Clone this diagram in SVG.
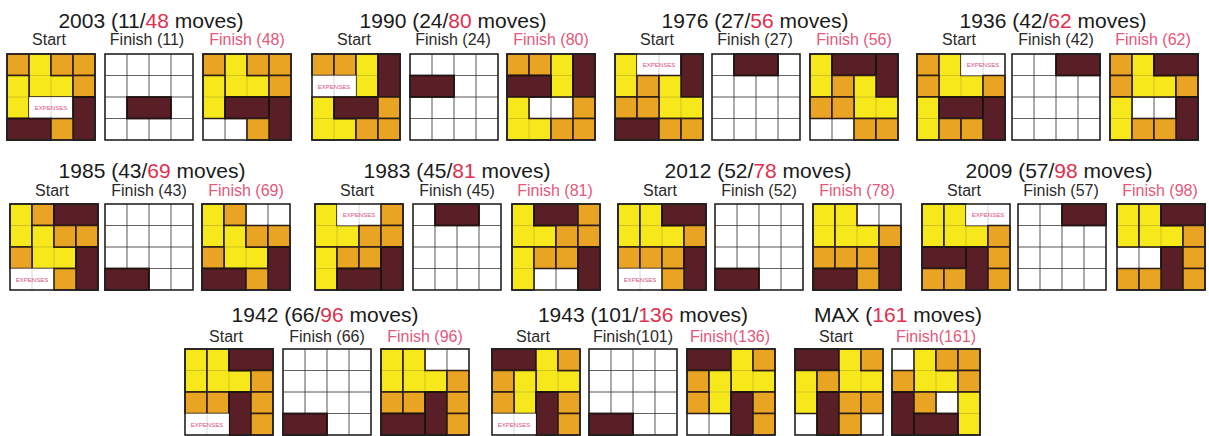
<svg xmlns="http://www.w3.org/2000/svg" xmlns:xlink="http://www.w3.org/1999/xlink" width="1209" height="436" viewBox="0 0 1209 436">
<style>
text{font-family:"Liberation Sans",Arial,sans-serif}
.t{font-size:21px;fill:#1a1a1a;text-anchor:middle}
.r{fill:#e0304e}
.lb{font-size:16px;fill:#2a2a2a;text-anchor:middle}
.lr{font-size:16px;fill:#e4587a;text-anchor:middle}
.ex{font-size:6px;fill:#e0507a;text-anchor:middle}
.o{fill:#eaa423;stroke:#2a1a12;stroke-width:1.5}
.y{fill:#f7e81c;stroke:#2a1a12;stroke-width:1.5}
.d{fill:#5a1e26;stroke:#1a0e0a;stroke-width:1.8}
.w{fill:#ffffff;stroke:none}
.gl{fill:none;stroke:#333;stroke-width:1;opacity:0.7}
.gf{fill:none;stroke:#333;stroke-width:0.8;opacity:0.25}
.bd{fill:none;stroke:#222;stroke-width:1.6}
.bg{fill:#ffffff}
</style>
<defs>
<rect id="c" width="22" height="21.5"/>
<rect id="h" width="44" height="21.5"/>
<rect id="v" width="22" height="43"/>
<path id="L" d="M0,0H22V21.5H44V43H0Z"/>
<path id="lines" d="M22,0V86M44,0V86M66,0V86M0,21.5H88M0,43H88M0,64.5H88"/>
<g id="bg"><rect class="bg" width="88" height="86"/><use href="#lines" class="gl"/></g>
<g id="fr"><use href="#lines" class="gf"/><rect class="bd" width="88" height="86"/></g>
</defs>
<rect width="1209" height="436" fill="#ffffff"/>

<g id="titles">
<text class="t" x="151" y="28">2003 (11/<tspan class="r">48</tspan> moves)</text>
<text class="t" x="453" y="28">1990 (24/<tspan class="r">80</tspan> moves)</text>
<text class="t" x="755" y="28">1976 (27/<tspan class="r">56</tspan> moves)</text>
<text class="t" x="1053" y="28">1936 (42/<tspan class="r">62</tspan> moves)</text>
<text class="t" x="152" y="178">1985 (43/<tspan class="r">69</tspan> moves)</text>
<text class="t" x="457" y="178">1983 (45/<tspan class="r">81</tspan> moves)</text>
<text class="t" x="758" y="178">2012 (52/<tspan class="r">78</tspan> moves)</text>
<text class="t" x="1059" y="178">2009 (57/<tspan class="r">98</tspan> moves)</text>
<text class="t" x="325" y="322">1942 (66/<tspan class="r">96</tspan> moves)</text>
<text class="t" x="643" y="322">1943 (101/<tspan class="r">136</tspan> moves)</text>
<text class="t" x="898" y="322">MAX (<tspan class="r">161</tspan> moves)</text>
</g>

<g id="labels">
<text class="lb" x="49" y="45">Start</text><text class="lb" x="147" y="45">Finish (11)</text><text class="lr" x="247" y="45">Finish (48)</text>
<text class="lb" x="354" y="45">Start</text><text class="lb" x="453" y="45">Finish (24)</text><text class="lr" x="551" y="45">Finish (80)</text>
<text class="lb" x="657" y="45">Start</text><text class="lb" x="755" y="45">Finish (27)</text><text class="lr" x="854" y="45">Finish (56)</text>
<text class="lb" x="959" y="45">Start</text><text class="lb" x="1056" y="45">Finish (42)</text><text class="lr" x="1153" y="45">Finish (62)</text>
<text class="lb" x="52" y="196">Start</text><text class="lb" x="149" y="196">Finish (43)</text><text class="lr" x="246" y="196">Finish (69)</text>
<text class="lb" x="357" y="196">Start</text><text class="lb" x="457" y="196">Finish (45)</text><text class="lr" x="555" y="196">Finish (81)</text>
<text class="lb" x="660" y="196">Start</text><text class="lb" x="759" y="196">Finish (52)</text><text class="lr" x="857" y="196">Finish (78)</text>
<text class="lb" x="964" y="196">Start</text><text class="lb" x="1061" y="196">Finish (57)</text><text class="lr" x="1160" y="196">Finish (98)</text>
<text class="lb" x="226" y="342">Start</text><text class="lb" x="327" y="342">Finish (66)</text><text class="lr" x="425" y="342">Finish (96)</text>
<text class="lb" x="533" y="342">Start</text><text class="lb" x="633" y="342">Finish(101)</text><text class="lr" x="730" y="342">Finish(136)</text>
<text class="lb" x="836" y="342">Start</text><text class="lr" x="936" y="342">Finish(161)</text>
</g>

<!-- 2003 -->
<g id="g2003s" transform="translate(7,54)"><use href="#bg"/>
<use href="#c" class="o"/><use href="#L" class="y" x="22"/><use href="#c" class="o" x="44"/><use href="#c" class="o" x="66"/><use href="#c" class="o" x="66" y="21.5"/><use href="#v" class="y" y="21.5"/><use href="#h" class="w" x="22" y="43"/><text class="ex" x="44" y="56">EXPENSES</text><use href="#v" class="d" x="66" y="43"/><use href="#h" class="d" y="64.5"/><use href="#c" class="o" x="44" y="64.5"/>
<use href="#fr"/></g>
<g id="g2003f1" transform="translate(105,54)"><use href="#bg"/><use href="#h" class="d" x="22" y="43"/><use href="#fr"/></g>
<g id="g2003f2" transform="translate(203,54)"><use href="#bg"/>
<use href="#c" class="o"/><use href="#L" class="y" x="22"/><use href="#c" class="o" x="44"/><use href="#c" class="o" x="66"/><use href="#c" class="o" x="66" y="21.5"/><use href="#v" class="y" y="21.5"/><use href="#h" class="d" x="22" y="43"/><use href="#v" class="d" x="66" y="43"/><use href="#c" class="o" x="44" y="64.5"/>
<use href="#fr"/></g>

<!-- 1990 -->
<g id="g1990s" transform="translate(312,54)"><use href="#bg"/>
<use href="#c" class="o"/><use href="#c" class="o" x="22"/><use href="#v" class="y" x="44"/><use href="#v" class="d" x="66"/><use href="#h" class="w" y="21.5"/><text class="ex" x="22" y="34.5">EXPENSES</text><use href="#L" class="y" y="43"/><use href="#h" class="d" x="22" y="43"/><use href="#c" class="o" x="66" y="43"/><use href="#c" class="o" x="44" y="64.5"/><use href="#c" class="o" x="66" y="64.5"/>
<use href="#fr"/></g>
<g id="g1990f1" transform="translate(410,54)"><use href="#bg"/><use href="#h" class="d" y="21.5"/><use href="#fr"/></g>
<g id="g1990f2" transform="translate(507,54)"><use href="#bg"/>
<use href="#c" class="o"/><use href="#c" class="o" x="22"/><use href="#v" class="y" x="44"/><use href="#v" class="d" x="66"/><use href="#h" class="d" y="21.5"/><use href="#L" class="y" y="43"/><use href="#c" class="o" x="66" y="43"/><use href="#c" class="o" x="44" y="64.5"/><use href="#c" class="o" x="66" y="64.5"/>
<use href="#fr"/></g>

<!-- 1976 -->
<g id="g1976s" transform="translate(615,54)"><use href="#bg"/>
<use href="#v" class="y"/><use href="#h" class="w" x="22"/><text class="ex" x="44" y="13">EXPENSES</text><use href="#v" class="d" x="66"/><use href="#c" class="o" x="22" y="21.5"/><use href="#L" class="y" x="44" y="21.5"/><use href="#c" class="o" y="43"/><use href="#c" class="o" x="22" y="43"/><use href="#h" class="d" y="64.5"/><use href="#c" class="o" x="44" y="64.5"/><use href="#c" class="o" x="66" y="64.5"/>
<use href="#fr"/></g>
<g id="g1976f1" transform="translate(712,54)"><use href="#bg"/><use href="#h" class="d" x="22"/><use href="#fr"/></g>
<g id="g1976f2" transform="translate(810,54)"><use href="#bg"/>
<use href="#v" class="y"/><use href="#h" class="d" x="22"/><use href="#v" class="d" x="66"/><use href="#c" class="o" x="22" y="21.5"/><use href="#L" class="y" x="44" y="21.5"/><use href="#c" class="o" y="43"/><use href="#c" class="o" x="22" y="43"/><use href="#c" class="o" x="44" y="64.5"/><use href="#c" class="o" x="66" y="64.5"/>
<use href="#fr"/></g>

<!-- 1936 -->
<g id="g1936s" transform="translate(917,54)"><use href="#bg"/>
<use href="#c" class="o"/><use href="#L" class="y" x="22"/><use href="#h" class="w" x="44"/><text class="ex" x="66" y="13">EXPENSES</text><use href="#c" class="o" y="21.5"/><use href="#c" class="o" x="66" y="21.5"/><use href="#v" class="y" y="43"/><use href="#h" class="d" x="22" y="43"/><use href="#v" class="d" x="66" y="43"/><use href="#c" class="o" x="22" y="64.5"/><use href="#c" class="o" x="44" y="64.5"/>
<use href="#fr"/></g>
<g id="g1936f1" transform="translate(1012,54)"><use href="#bg"/><use href="#h" class="d" x="44"/><use href="#fr"/></g>
<g id="g1936f2" transform="translate(1110,54)"><use href="#bg"/>
<use href="#c" class="o"/><use href="#L" class="y" x="22"/><use href="#h" class="d" x="44"/><use href="#c" class="o" y="21.5"/><use href="#c" class="o" x="66" y="21.5"/><use href="#v" class="y" y="43"/><use href="#v" class="d" x="66" y="43"/><use href="#c" class="o" x="22" y="64.5"/><use href="#c" class="o" x="44" y="64.5"/>
<use href="#fr"/></g>

<!-- 1985 -->
<g id="g1985s" transform="translate(10,204)"><use href="#bg"/>
<use href="#v" class="y"/><use href="#c" class="o" x="22"/><use href="#h" class="d" x="44"/><use href="#L" class="y" x="22" y="21.5"/><use href="#c" class="o" x="44" y="21.5"/><use href="#c" class="o" x="66" y="21.5"/><use href="#c" class="o" y="43"/><use href="#v" class="d" x="66" y="43"/><use href="#h" class="w" y="64.5"/><text class="ex" x="22" y="77.5">EXPENSES</text><use href="#c" class="o" x="44" y="64.5"/>
<use href="#fr"/></g>
<g id="g1985f1" transform="translate(105,204)"><use href="#bg"/><use href="#h" class="d" y="64.5"/><use href="#fr"/></g>
<g id="g1985f2" transform="translate(202,204)"><use href="#bg"/>
<use href="#v" class="y"/><use href="#c" class="o" x="22"/><use href="#L" class="y" x="22" y="21.5"/><use href="#c" class="o" x="44" y="21.5"/><use href="#c" class="o" x="66" y="21.5"/><use href="#c" class="o" y="43"/><use href="#v" class="d" x="66" y="43"/><use href="#h" class="d" y="64.5"/><use href="#c" class="o" x="44" y="64.5"/>
<use href="#fr"/></g>

<!-- 1983 -->
<g id="g1983s" transform="translate(315,204)"><use href="#bg"/>
<use href="#L" class="y"/><use href="#h" class="w" x="22"/><text class="ex" x="44" y="13">EXPENSES</text><use href="#c" class="o" x="66"/><use href="#c" class="o" x="44" y="21.5"/><use href="#c" class="o" x="66" y="21.5"/><use href="#v" class="y" y="43"/><use href="#c" class="o" x="22" y="43"/><use href="#c" class="o" x="44" y="43"/><use href="#v" class="d" x="66" y="43"/><use href="#h" class="d" x="22" y="64.5"/>
<use href="#fr"/></g>
<g id="g1983f1" transform="translate(413,204)"><use href="#bg"/><use href="#h" class="d" x="22"/><use href="#fr"/></g>
<g id="g1983f2" transform="translate(512,204)"><use href="#bg"/>
<use href="#L" class="y"/><use href="#h" class="d" x="22"/><use href="#c" class="o" x="66"/><use href="#c" class="o" x="44" y="21.5"/><use href="#c" class="o" x="66" y="21.5"/><use href="#v" class="y" y="43"/><use href="#c" class="o" x="22" y="43"/><use href="#c" class="o" x="44" y="43"/><use href="#v" class="d" x="66" y="43"/>
<use href="#fr"/></g>

<!-- 2012 -->
<g id="g2012s" transform="translate(618,204)"><use href="#bg"/>
<use href="#v" class="y"/><use href="#L" class="y" x="22"/><use href="#h" class="d" x="44"/><use href="#c" class="o" x="66" y="21.5"/><use href="#c" class="o" y="43"/><use href="#c" class="o" x="22" y="43"/><use href="#c" class="o" x="44" y="43"/><use href="#v" class="d" x="66" y="43"/><use href="#h" class="w" y="64.5"/><text class="ex" x="22" y="77.5">EXPENSES</text><use href="#c" class="o" x="44" y="64.5"/>
<use href="#fr"/></g>
<g id="g2012f1" transform="translate(715,204)"><use href="#bg"/><use href="#h" class="d" y="64.5"/><use href="#fr"/></g>
<g id="g2012f2" transform="translate(813,204)"><use href="#bg"/>
<use href="#v" class="y"/><use href="#L" class="y" x="22"/><use href="#c" class="o" x="66" y="21.5"/><use href="#c" class="o" y="43"/><use href="#c" class="o" x="22" y="43"/><use href="#c" class="o" x="44" y="43"/><use href="#v" class="d" x="66" y="43"/><use href="#h" class="d" y="64.5"/><use href="#c" class="o" x="44" y="64.5"/>
<use href="#fr"/></g>

<!-- 2009 -->
<g id="g2009s" transform="translate(922,204)"><use href="#bg"/>
<use href="#v" class="y"/><use href="#L" class="y" x="22"/><use href="#h" class="w" x="44"/><text class="ex" x="66" y="13">EXPENSES</text><use href="#c" class="o" x="66" y="21.5"/><use href="#h" class="d" y="43"/><use href="#v" class="d" x="44" y="43"/><use href="#c" class="o" x="66" y="43"/><use href="#c" class="o" y="64.5"/><use href="#c" class="o" x="22" y="64.5"/><use href="#c" class="o" x="66" y="64.5"/>
<use href="#fr"/></g>
<g id="g2009f1" transform="translate(1018,204)"><use href="#bg"/><use href="#h" class="d" x="44"/><use href="#fr"/></g>
<g id="g2009f2" transform="translate(1117,204)"><use href="#bg"/>
<use href="#v" class="y"/><use href="#L" class="y" x="22"/><use href="#h" class="d" x="44"/><use href="#c" class="o" x="66" y="21.5"/><use href="#v" class="d" x="44" y="43"/><use href="#c" class="o" x="66" y="43"/><use href="#c" class="o" y="64.5"/><use href="#c" class="o" x="22" y="64.5"/><use href="#c" class="o" x="66" y="64.5"/>
<use href="#fr"/></g>

<!-- 1942 -->
<g id="g1942s" transform="translate(185,349)"><use href="#bg"/>
<use href="#v" class="y"/><use href="#L" class="y" x="22"/><use href="#h" class="d" x="44"/><use href="#c" class="o" x="66" y="21.5"/><use href="#c" class="o" y="43"/><use href="#c" class="o" x="22" y="43"/><use href="#v" class="d" x="44" y="43"/><use href="#c" class="o" x="66" y="43"/><use href="#h" class="w" y="64.5"/><text class="ex" x="22" y="77.5">EXPENSES</text><use href="#c" class="o" x="66" y="64.5"/>
<use href="#fr"/></g>
<g id="g1942f1" transform="translate(283,349)"><use href="#bg"/><use href="#h" class="d" y="64.5"/><use href="#fr"/></g>
<g id="g1942f2" transform="translate(381,349)"><use href="#bg"/>
<use href="#v" class="y"/><use href="#L" class="y" x="22"/><use href="#c" class="o" x="66" y="21.5"/><use href="#c" class="o" y="43"/><use href="#c" class="o" x="22" y="43"/><use href="#v" class="d" x="44" y="43"/><use href="#c" class="o" x="66" y="43"/><use href="#h" class="d" y="64.5"/><use href="#c" class="o" x="66" y="64.5"/>
<use href="#fr"/></g>

<!-- 1943 -->
<g id="g1943s" transform="translate(492,349)"><use href="#bg"/>
<use href="#h" class="d"/><use href="#L" class="y" x="44"/><use href="#c" class="o" x="66"/><use href="#c" class="o" y="21.5"/><use href="#v" class="y" x="22" y="21.5"/><use href="#c" class="o" y="43"/><use href="#v" class="d" x="44" y="43"/><use href="#c" class="o" x="66" y="43"/><use href="#h" class="w" y="64.5"/><text class="ex" x="22" y="77.5">EXPENSES</text><use href="#c" class="o" x="66" y="64.5"/>
<use href="#fr"/></g>
<g id="g1943f1" transform="translate(589,349)"><use href="#bg"/><use href="#h" class="d" y="64.5"/><use href="#fr"/></g>
<g id="g1943f2" transform="translate(687,349)"><use href="#bg"/>
<use href="#h" class="d"/><use href="#L" class="y" x="44"/><use href="#c" class="o" x="66"/><use href="#c" class="o" y="21.5"/><use href="#v" class="y" x="22" y="21.5"/><use href="#c" class="o" y="43"/><use href="#v" class="d" x="44" y="43"/><use href="#c" class="o" x="66" y="43"/><use href="#c" class="o" x="66" y="64.5"/>
<use href="#fr"/></g>

<!-- MAX -->
<g id="gMAXs" transform="translate(795,349)"><use href="#bg"/>
<use href="#h" class="d"/><use href="#L" class="y" x="44"/><use href="#c" class="o" x="66"/><use href="#v" class="y" y="21.5"/><use href="#c" class="o" x="22" y="21.5"/><use href="#v" class="d" x="22" y="43"/><use href="#c" class="o" x="44" y="43"/><use href="#c" class="o" x="66" y="43"/><use href="#c" class="o" x="44" y="64.5"/>
<use href="#fr"/></g>
<g id="gMAXf" transform="translate(892,349)"><use href="#bg"/>
<use href="#L" class="y" x="22"/><use href="#c" class="o" x="44"/><use href="#c" class="o" x="66"/><use href="#c" class="o" y="21.5"/><use href="#c" class="o" x="66" y="21.5"/><use href="#v" class="d" y="43"/><use href="#c" class="o" x="22" y="43"/><use href="#v" class="y" x="66" y="43"/><use href="#h" class="d" x="22" y="64.5"/>
<use href="#fr"/></g>
</svg>
